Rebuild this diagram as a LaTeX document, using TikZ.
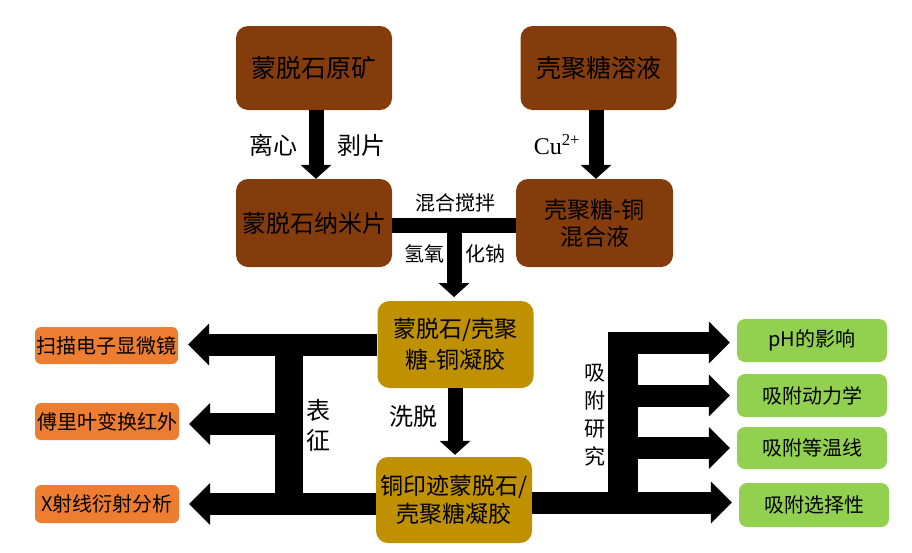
\documentclass[tikz,border=0pt]{standalone}
\usepackage{fontspec}
\setmainfont{Noto Sans CJK SC}
\newfontfamily\cufont{Liberation Serif}
\usetikzlibrary{arrows.meta}
\definecolor{claybrown}{HTML}{843C0C}
\definecolor{gelgold}{HTML}{BF9000}
\definecolor{testorange}{HTML}{ED7D31}
\definecolor{studygreen}{HTML}{92D050}

\begin{document}
\begin{tikzpicture}[x=1pt, y=-1pt,
  brownbox/.style={fill=claybrown, rounded corners=12pt, minimum width=156pt, minimum height=84pt, align=center, inner sep=0pt},
  goldbox/.style={fill=gelgold, rounded corners=12pt, minimum width=156pt, minimum height=87pt, align=center, inner sep=0pt},
  orangebox/.style={fill=testorange, rounded corners=6pt, minimum width=144pt, minimum height=37pt, inner sep=0pt, font=\fontsize{20}{24}\selectfont},
  greenbox/.style={fill=studygreen, rounded corners=8pt, minimum width=150pt, minimum height=43pt, inner sep=0pt, font=\fontsize{20}{24}\selectfont},
  sidetext/.style={font=\fontsize{24}{30}\selectfont, align=center, inner sep=0pt},
  narrowarrow/.style={line width=15pt, -{Triangle[length=14pt, width=31pt, line width=0pt]}},
  widearrow/.style={line width=22pt, -{Triangle[length=21pt, width=42pt, line width=0pt]}},
]
\useasboundingbox (0,0) rectangle (912,552);

\node[brownbox, font=\fontsize{25}{30}\selectfont] (ore) at (314,68) {蒙脱石原矿};
\node[brownbox, font=\fontsize{25}{30}\selectfont] (chit) at (598.5,68) {壳聚糖溶液};
\node[brownbox, minimum height=88pt, font=\fontsize{24}{30}\selectfont] (nano) at (314,223) {蒙脱石纳米片};
\node[brownbox, minimum width=157pt, minimum height=88pt, font=\fontsize{23}{27}\selectfont] (cumix) at (594.5,223) {壳聚糖-铜\\混合液};
\node[goldbox, font=\fontsize{23}{31}\selectfont] (gel) at (455.5,344.5) {蒙脱石/壳聚\\糖-铜凝胶};
\node[goldbox, minimum height=86pt, font=\fontsize{23}{28}\selectfont] (imp) at (454,500) {铜印迹蒙脱石/\\壳聚糖凝胶};

\node[orangebox, minimum width=143pt] (sem) at (106.5,345.5) {扫描电子显微镜};
\node[orangebox] (ftir) at (107,421.5) {傅里叶变换红外};
\node[orangebox, minimum height=38pt] (xrd) at (107,504) {X射线衍射分析};

\node[greenbox] (ph) at (812,340.5) {pH的影响};
\node[greenbox] (kin) at (812,395.5) {吸附动力学};
\node[greenbox, minimum height=42pt] (iso) at (812,448) {吸附等温线};
\node[greenbox, minimum height=44pt] (sel) at (814,505) {吸附选择性};

\node[sidetext] (lixin) at (273,145) {离心};
\node[sidetext] (boli) at (361,145) {剥片};
\node[sidetext, font=\cufont\fontsize{24}{30}\selectfont] (cu) at (557,145) {Cu\textsuperscript{2+}};
\node[sidetext, font=\fontsize{20}{24}\selectfont] (stir) at (455,203) {混合搅拌};
\node[sidetext, font=\fontsize{20}{24}\selectfont] (naoha) at (424,254) {氢氧};
\node[sidetext, font=\fontsize{20}{24}\selectfont] (naohb) at (485,254) {化钠};
\node[sidetext] (elute) at (413,416) {洗脱};
\node[sidetext, font=\fontsize{24}{30}\selectfont] (charac) at (318,425) {表\\征};
\node[sidetext, font=\fontsize{21}{28}\selectfont] (adsorb) at (595,415) {吸\\附\\研\\究};

\coordinate (mixmid) at (454,225);
\coordinate (geltop) at (454,297);
\coordinate (ltop) at (289,344.5);
\coordinate (impl) at ([yshift=-4pt]imp.west);
\coordinate (impr) at ([yshift=-2.5pt]imp.east);
\coordinate (rtop) at (623,332);
\coordinate (phfrom) at (608,342.5);

\draw[narrowarrow] ([xshift=2pt]ore.south) -- ([xshift=2pt]nano.north);
\draw[narrowarrow] ([xshift=-2.5pt]chit.south) -- ([xshift=1.5pt]cumix.north);
\draw[line width=15pt] ([yshift=-2pt]nano.east) -- ([yshift=-2pt]cumix.west);
\draw[narrowarrow] (mixmid) -- (geltop);
\draw[narrowarrow, shorten >=2pt] ([xshift=-0.5pt]gel.south) -- ([xshift=1pt]imp.north);

\draw[widearrow, shorten >=10pt] (gel.west) -- (gel.west -| sem.east);
\draw[widearrow, shorten >=10pt] (impl) -- (impl -| xrd.east);
\draw[line width=28pt] (ltop) -- (ltop |- impl);
\draw[widearrow] ([yshift=-2.5pt]ltop |- ftir.east) -- ([xshift=10pt, yshift=-2.5pt]ftir.east);

\draw[widearrow, shorten >=7pt] (impr) -- (impr -| sel.west);
\draw[line width=30pt] (rtop) -- (rtop |- impr);
\draw[widearrow] (phfrom) -- ([xshift=-7pt, yshift=-2pt]ph.west);
\foreach \b in {kin,iso}
    \draw[widearrow] (rtop |- \b.west) -- ([xshift=-7pt]\b.west);
\end{tikzpicture}
\end{document}
